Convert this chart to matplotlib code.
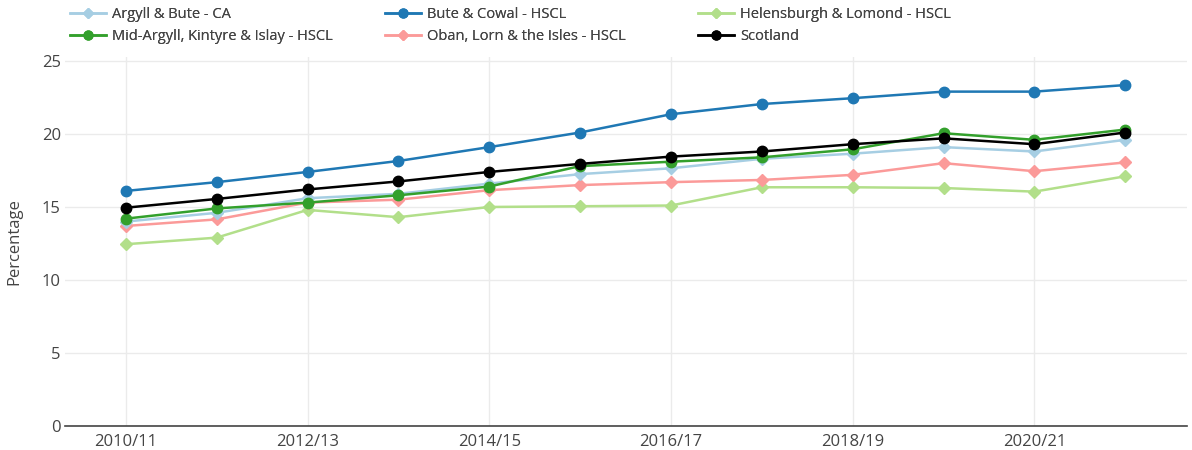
import matplotlib
matplotlib.use("Agg")
import matplotlib.pyplot as plt

plt.rcParams["font.family"] = ["Open Sans", "DejaVu Sans"]

years = ["2010/11", "2011/12", "2012/13", "2013/14", "2014/15", "2015/16",
         "2016/17", "2017/18", "2018/19", "2019/20", "2020/21", "2021/22"]

argyll_bute = [14.0, 14.6, 15.6, 15.9, 16.6, 17.25, 17.65, 18.3, 18.65, 19.1, 18.8, 19.6]
bute_cowal = [16.1, 16.7, 17.4, 18.15, 19.1, 20.1, 21.35, 22.05, 22.45, 22.9, 22.9, 23.35]
helensburgh = [12.45, 12.9, 14.8, 14.3, 15.0, 15.05, 15.1, 16.35, 16.35, 16.3, 16.05, 17.1]
mid_argyll = [14.2, 14.9, 15.3, 15.8, 16.4, 17.8, 18.1, 18.4, 18.95, 20.05, 19.6, 20.3]
oban = [13.7, 14.15, 15.3, 15.5, 16.15, 16.5, 16.7, 16.85, 17.2, 18.0, 17.45, 18.05]
scotland = [14.95, 15.55, 16.2, 16.75, 17.4, 17.95, 18.45, 18.8, 19.3, 19.7, 19.3, 20.1]

series = [
    ("Argyll & Bute - CA", argyll_bute, "#a6cee3", "D"),
    ("Mid-Argyll, Kintyre & Islay - HSCL", mid_argyll, "#33a02c", "o"),
    ("Bute & Cowal - HSCL", bute_cowal, "#1f78b4", "o"),
    ("Oban, Lorn & the Isles - HSCL", oban, "#fb9a99", "D"),
    ("Helensburgh & Lomond - HSCL", helensburgh, "#b2df8a", "D"),
    ("Scotland", scotland, "#000000", "o"),
]
draw_order = [4, 3, 0, 1, 5, 2]

fig = plt.figure(figsize=(11.92, 4.5), dpi=100)
ax = fig.add_axes([0.0545, 0.0533, 0.9413, 0.82])

x = list(range(len(years)))
handles = {}
for z, i in enumerate(draw_order):
    name, vals, col, mk = series[i]
    ms = 6.5 if mk == "D" else 7.5
    h, = ax.plot(x, vals, color=col, marker=mk, markersize=ms, linewidth=1.8,
                 label=name, zorder=3 + z)
    handles[i] = h

ax.set_xlim(-0.67, 11.68)
ax.set_ylim(0, 25.27)
ax.set_xticks(x[::2])
ax.set_xticklabels(years[::2])
ax.set_yticks([0, 5, 10, 15, 20, 25])
ax.grid(True, color="#ebebeb", linewidth=1)
ax.set_axisbelow(True)
for s in ["top", "right", "left"]:
    ax.spines[s].set_visible(False)
ax.spines["bottom"].set_color("#444444")
ax.spines["bottom"].set_linewidth(1.2)
ax.tick_params(axis="both", length=0, labelsize=12, colors="#444444")
ax.tick_params(axis="x", pad=6)
ax.tick_params(axis="y", pad=3)
ax.set_ylabel("Percentage", fontsize=12, color="#444444", labelpad=14)

# three legend columns, placed like the original
col_x = [70, 385, 698]
for c in range(3):
    idx = [2 * c, 2 * c + 1]
    leg = fig.legend([handles[i] for i in idx], [series[i][0] for i in idx],
                     loc="upper left", bbox_to_anchor=(col_x[c] / 1192, 0.984),
                     frameon=False, fontsize=10.5, handlelength=2.5,
                     labelspacing=0.5, handletextpad=0.4, borderpad=0,
                     borderaxespad=0, markerscale=0.85)
    for t in leg.get_texts():
        t.set_color("#444444")
    fig.add_artist(leg)

fig.savefig("out.png", dpi=100)
